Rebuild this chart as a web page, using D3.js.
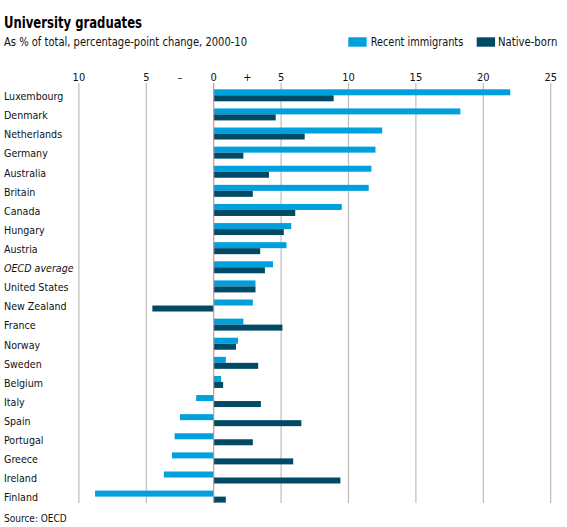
<!DOCTYPE html>
<html><head><meta charset="utf-8">
<script src="https://cdn.jsdelivr.net/npm/d3@7/dist/d3.min.js"></script>
<style>
body{margin:0;background:#fff;}
svg{display:block;font-family:"DejaVu Sans Condensed","DejaVu Sans",sans-serif;}
</style></head>
<body><svg id="c" width="567" height="527"></svg>
<script>
const categories = ["Luxembourg","Denmark","Netherlands","Germany","Australia","Britain","Canada","Hungary","Austria","OECD average","United States","New Zealand","France","Norway","Sweden","Belgium","Italy","Spain","Portugal","Greece","Ireland","Finland"];
const recentImmigrants = [22.0,18.3,12.5,12.0,11.7,11.5,9.5,5.75,5.4,4.4,3.1,2.9,2.2,1.8,0.9,0.55,-1.3,-2.5,-2.9,-3.1,-3.7,-8.8];
const nativeBorn = [8.9,4.6,6.75,2.2,4.1,2.9,6.05,5.2,3.45,3.8,3.1,-4.55,5.1,1.65,3.3,0.7,3.5,6.5,2.9,5.9,9.4,0.9];
const tickValues = [-10,-5,-2.5,0,2.5,5,10,15,20,25];
const tickLabels = ["10","5","\u2013","0","+","5","10","15","20","25"];
const gridValues = [-10,-5,5,10,15,20,25];
const seriesNames = ["Recent immigrants","Native-born"];
const colors = ["#00a0dc","#004a66"];

const svg = d3.select("#c");
const x = d3.scaleLinear().domain([0,25]).range([213.7,550.7]);
const y = d3.scaleBand().domain(categories).range([89.3, 89.3+19.11*22]).padding(0);
const bh = 6;

// title
svg.append("text").attr("x",4).attr("y",27.5).attr("font-weight","bold").attr("font-size",15.5)
  .attr("textLength",138).attr("lengthAdjust","spacingAndGlyphs").attr("fill","#000").text("University graduates");
svg.append("text").attr("x",4).attr("y",46).attr("font-size",11.5)
  .attr("textLength",243).attr("lengthAdjust","spacingAndGlyphs").attr("fill","#111").text("As % of total, percentage-point change, 2000-10");

// legend
const leg = [{x:348.3,tx:370.7,w:92.6},{x:476.7,tx:498,w:59.3}];
leg.forEach((l,i)=>{
  svg.append("rect").attr("x",l.x).attr("y",37.3).attr("width",18.4).attr("height",9.4).attr("fill",colors[i]);
  svg.append("text").attr("x",l.tx).attr("y",46).attr("font-size",11.5)
    .attr("textLength",l.w).attr("lengthAdjust","spacingAndGlyphs").attr("fill","#111").text(seriesNames[i]);
});

// grid
svg.append("g").selectAll("line").data(gridValues).join("line")
  .attr("x1",d=>x(d)).attr("x2",d=>x(d)).attr("y1",83).attr("y2",503)
  .attr("stroke","#bdbdbd").attr("stroke-width",1.2);

// tick labels
svg.append("g").selectAll("text").data(tickValues).join("text")
  .attr("x",d=>x(d)).attr("y",80.5).attr("text-anchor","middle").attr("font-size",11).attr("fill","#111")
  .text((d,i)=>tickLabels[i]);

// bars
const g = svg.append("g");
g.selectAll("rect.imm").data(categories).join("rect").attr("class","imm")
  .attr("x",(d,i)=>x(Math.min(0,recentImmigrants[i]))).attr("width",(d,i)=>Math.abs(x(recentImmigrants[i])-x(0)))
  .attr("y",d=>y(d)).attr("height",bh).attr("fill",colors[0]);
g.selectAll("rect.nat").data(categories).join("rect").attr("class","nat")
  .attr("x",(d,i)=>x(Math.min(0,nativeBorn[i]))).attr("width",(d,i)=>Math.abs(x(nativeBorn[i])-x(0)))
  .attr("y",d=>y(d)+bh).attr("height",bh).attr("fill",colors[1]);

// zero line
svg.append("line").attr("x1",x(0)).attr("x2",x(0)).attr("y1",83).attr("y2",503)
  .attr("stroke","#f07b7b").attr("stroke-width",1.1);

// category labels
svg.append("g").selectAll("text").data(categories).join("text")
  .attr("x",4).attr("y",d=>y(d)+bh+4.8).attr("font-size",10.6).attr("fill","#111")
  .attr("font-style",d=>d==="OECD average"?"italic":"normal")
  .text(d=>d);

// source
svg.append("text").attr("x",4).attr("y",521.5).attr("font-size",10).attr("fill","#111").text("Source: OECD");
</script></body></html>
